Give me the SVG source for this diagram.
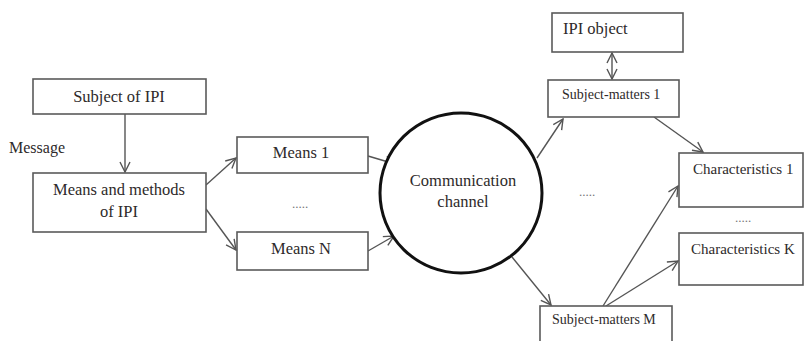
<svg xmlns="http://www.w3.org/2000/svg" width="804" height="341" viewBox="0 0 804 341">
  <style>
    .box { fill: #ffffff; stroke: #5a5a5a; stroke-width: 1.6; }
    .ring { fill: #ffffff; stroke: #111111; stroke-width: 3; }
    text { font-family: "Liberation Serif", "Times New Roman", serif; fill: #2e2a2a; }
    .lbl { font-size: 16.5px; }
    .chr { font-size: 15px; }
    .sm { font-size: 14px; }
    .msg { font-size: 16px; }
    .mid { text-anchor: middle; }
    .link { stroke: #555555; stroke-width: 1.4; fill: none; marker-end: url(#arrow); }
    .dots { font-size: 13px; fill: #777777; }
  </style>
  <defs>
    <marker id="arrow" viewBox="0 0 12 12" refX="11" refY="6" markerWidth="12" markerHeight="12" markerUnits="userSpaceOnUse" orient="auto-start-reverse">
      <path d="M1,1 L11,6 L1,11" fill="none" stroke="#555555" stroke-width="1.4"/>
    </marker>
  </defs>

  <rect width="804" height="341" fill="#ffffff"/>

  <!-- connectors -->
  <g id="connectors">
    <line class="link" x1="125" y1="114" x2="125" y2="172"/>
    <line class="link" x1="206" y1="185" x2="236" y2="158"/>
    <line class="link" x1="206" y1="209" x2="236" y2="250"/>
    <line class="link" x1="368" y1="156" x2="395" y2="164"/>
    <line class="link" x1="368" y1="251" x2="394" y2="236"/>
    <line class="link" x1="612" y1="53" x2="612" y2="79" marker-start="url(#arrow)"/>
    <line class="link" x1="537" y1="158" x2="563" y2="119"/>
    <line class="link" x1="654" y1="117" x2="703" y2="152"/>
    <line class="link" x1="512" y1="257" x2="551" y2="305"/>
    <line class="link" x1="603" y1="306" x2="678" y2="186"/>
    <line class="link" x1="606" y1="306" x2="678" y2="261"/>
  </g>

  <text class="msg" x="9" y="153">Message</text>

  <g id="subject">
    <rect class="box" x="33" y="79" width="173" height="35"/>
    <text class="lbl mid" x="119" y="102">Subject of IPI</text>
  </g>

  <g id="means-methods">
    <rect class="box" x="33" y="173" width="173" height="59"/>
    <text class="lbl mid" x="119" y="195">Means and methods</text>
    <text class="lbl mid" x="119" y="217">of IPI</text>
  </g>

  <g id="means-1">
    <rect class="box" x="237" y="137" width="131" height="36"/>
    <text class="lbl mid" x="301" y="158">Means 1</text>
  </g>

  <text class="dots mid" x="300" y="208">.....</text>

  <g id="means-n">
    <rect class="box" x="237" y="232" width="131" height="38"/>
    <text class="lbl mid" x="301" y="254">Means N</text>
  </g>

  <g id="channel">
    <ellipse class="ring" cx="461" cy="193" rx="81" ry="80"/>
    <text class="lbl mid" x="463" y="186">Communication</text>
    <text class="lbl mid" x="463" y="207">channel</text>
  </g>

  <text class="dots mid" x="587" y="196">.....</text>

  <g id="ipi-object">
    <rect class="box" x="552" y="13" width="131" height="39"/>
    <text class="lbl" x="563" y="34">IPI object</text>
  </g>

  <g id="subject-matters-1">
    <rect class="box" x="548" y="80" width="131" height="37"/>
    <text class="sm" x="562" y="99">Subject-matters 1</text>
  </g>

  <g id="characteristics-1">
    <rect class="box" x="679" y="153" width="124" height="54"/>
    <text class="chr" x="693" y="174">Characteristics  1</text>
  </g>

  <text class="dots mid" x="743" y="222">.....</text>

  <g id="characteristics-k">
    <rect class="box" x="679" y="233" width="124" height="52"/>
    <text class="chr" x="691" y="254">Characteristics  K</text>
  </g>

  <g id="subject-matters-m">
    <rect class="box" x="540" y="306" width="132" height="40"/>
    <text class="sm" x="552" y="324">Subject-matters M</text>
  </g>
</svg>
